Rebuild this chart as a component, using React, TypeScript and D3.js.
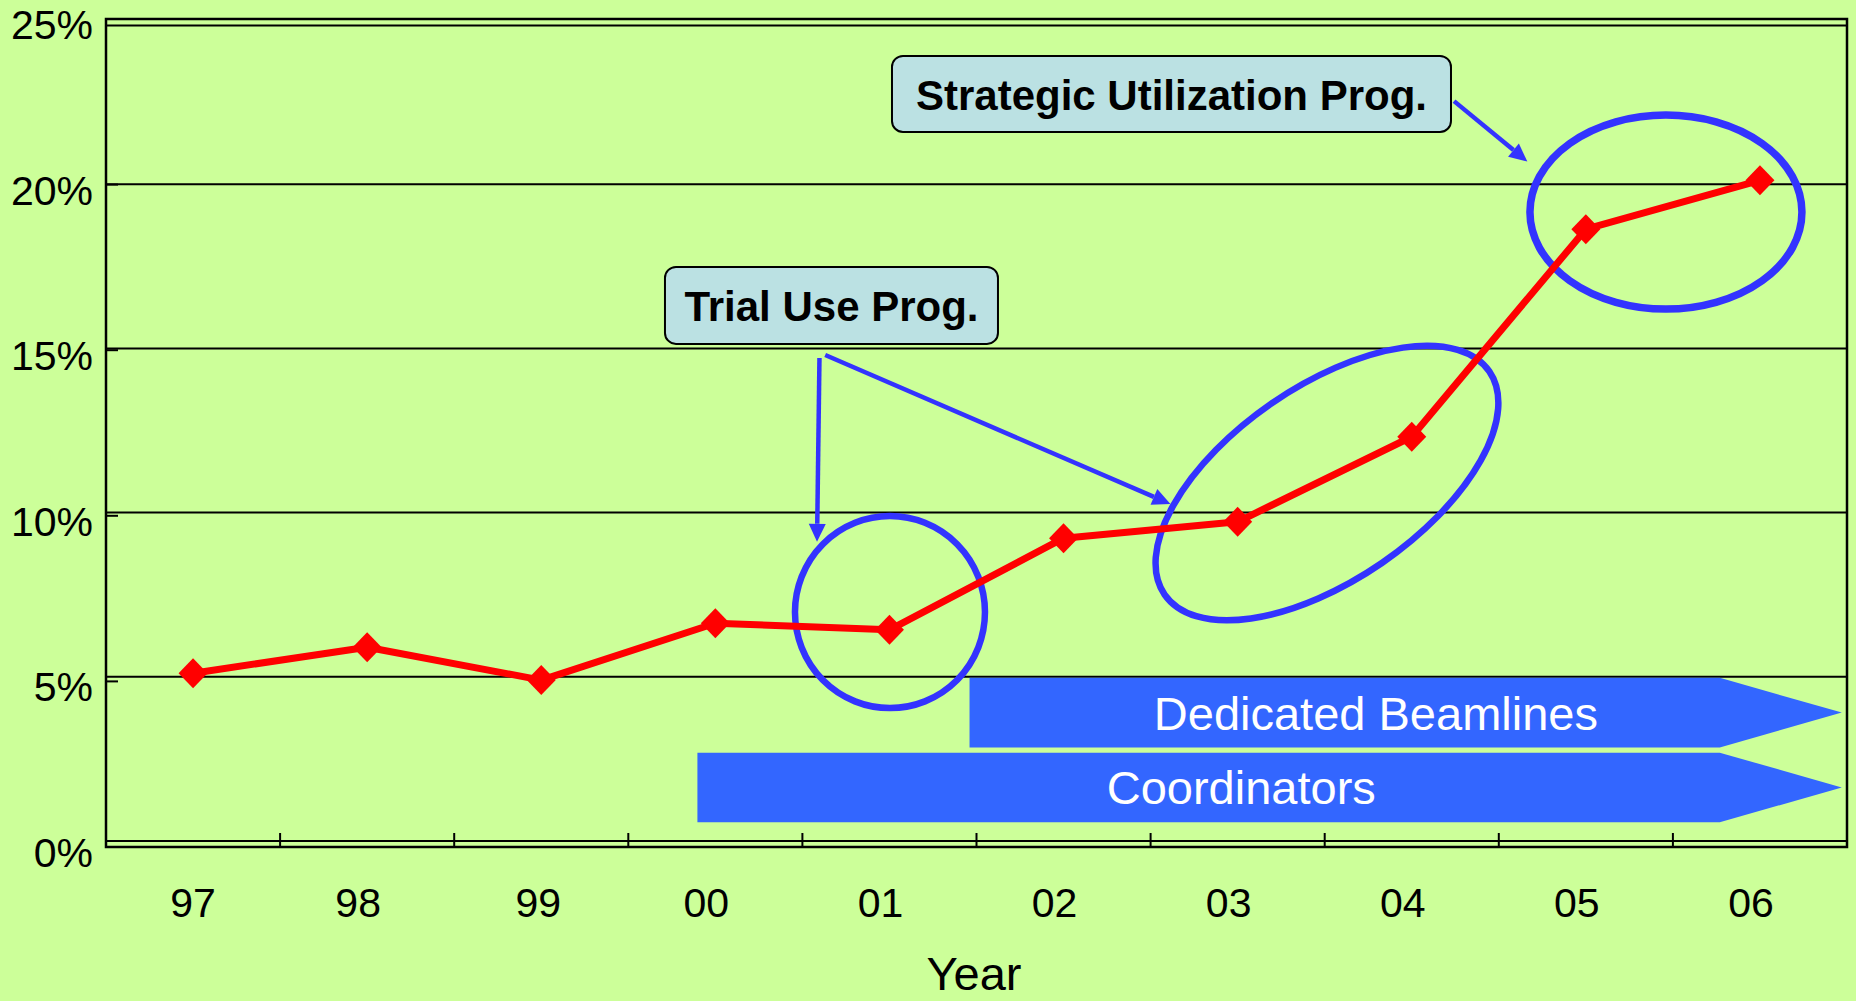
import React from "react";
import * as d3 from "d3";

// ---- data ----
const years = ["97", "98", "99", "00", "01", "02", "03", "04", "05", "06"];
const shares = [5.11, 5.9, 4.9, 6.63, 6.43, 9.22, 9.72, 12.31, 18.63, 20.12];
const yTicks = [0, 5, 10, 15, 20, 25];
const gridValues = [0, 5, 10, 15, 20];
const axisTitle = "Year";

// programme spans (x in year-index units, y in percent units)
const spanLabels = ["Dedicated Beamlines", "Coordinators"];
const spanStart = [4.46, 2.897];
const spanEnd = [9.47, 9.47];
const spanTop = [4.97, 2.69];
const spanBottom = [2.85, 0.57];
const spanTextAt = [6.794, 6.021];

// callouts (centre in year-index / percent units)
const calloutLabels = ["Trial Use Prog.", "Strategic Utilization Prog."];
const calloutAt = [3.667, 5.62];
const calloutLevel = [16.31, 22.75];

// highlight rings (centre in year-index / percent units)
const ringAt = [4.003, 6.513, 8.46];
const ringLevel = [6.97, 10.9, 19.15];

// pointer arrows: [fromIndex, fromPct, toIndex, toPct]
const pointers = [
  [3.598, 14.71, 3.584, 9.11],
  [3.631, 14.8, 5.614, 10.26],
  [7.243, 22.53, 7.664, 20.69],
];

const FONT = "'Liberation Sans', Arial, Helvetica, sans-serif";
const BG = "#ccff99";
const BLUE = "#3333ff";
const BAR = "#3366ff";
const RED = "#ff0000";

function arrowParts(x1: number, y1: number, x2: number, y2: number, len = 18, half = 8.5) {
  const dx = x2 - x1;
  const dy = y2 - y1;
  const L = Math.hypot(dx, dy);
  const ux = dx / L;
  const uy = dy / L;
  const bx = x2 - ux * len;
  const by = y2 - uy * len;
  const px = -uy;
  const py = ux;
  return {
    shaft: `M${x1},${y1}L${bx},${by}`,
    head: `M${x2},${y2}L${bx + px * half},${by + py * half}L${bx - px * half},${by - py * half}Z`,
  };
}

export default function App() {
  const left = 106;
  const right = 1847;
  const x = d3.scaleBand<string>().domain(years).range([left, right]).padding(0);
  const xi = d3.scaleLinear().domain([-0.5, years.length - 0.5]).range([left, right]);
  const y = d3.scaleLinear().domain([0, 25]).range([841, 20]);
  const yAx = d3.scaleLinear().domain([0, 25]).range([847, 19]);
  const cx = (i: number) => (x(years[i]) as number) + x.bandwidth() / 2;

  const linePath = d3
    .line<number>()
    .x((_, i) => cx(i))
    .y((d) => y(d))(shares) as string;

  const ringSizes = [
    { rx: 95, ry: 96, rot: 0, w: 6.5 },
    { rx: 197, ry: 97, rot: -34.5, w: 6.5 },
    { rx: 136, ry: 97, rot: 0, w: 7.5 },
  ];
  const calloutSizes = [
    { w: 333, h: 77 },
    { w: 559, h: 76 },
  ];

  return (
    <div style={{ position: "fixed", left: 0, top: 0, width: 1856, height: 1001, background: BG }}>
      <svg width={1856} height={1001} style={{ display: "block" }} fontFamily={FONT}>
        <rect x={0} y={0} width={1856} height={1001} fill={BG} />

        {/* gridlines */}
        {gridValues.map((v) => (
          <line key={"g" + v} x1={left} x2={right} y1={y(v)} y2={y(v)} stroke="#000" strokeWidth={2} />
        ))}
        <line x1={left} x2={right} y1={25.5} y2={25.5} stroke="#000" strokeWidth={2} />

        {/* programme spans */}
        {spanLabels.map((lab, k) => {
          const x0 = xi(spanStart[k]);
          const tip = xi(spanEnd[k]);
          const sh = tip - 122;
          const t = y(spanTop[k]);
          const b = y(spanBottom[k]);
          const m = (t + b) / 2;
          return (
            <g key={lab}>
              <path d={`M${x0},${t}L${sh},${t}L${tip},${m}L${sh},${b}L${x0},${b}Z`} fill={BAR} />
              <text x={xi(spanTextAt[k])} y={m + 17} fill="#fff" fontSize={47} textAnchor="middle">
                {lab}
              </text>
            </g>
          );
        })}

        {/* frame */}
        <rect x={left} y={19} width={right - left} height={847 - 19} fill="none" stroke="#000" strokeWidth={2.5} />

        {/* y ticks & labels */}
        {yTicks.map((v) => (
          <g key={"y" + v}>
            <line x1={left} x2={left + 12} y1={yAx(v)} y2={yAx(v)} stroke="#000" strokeWidth={2} />
            <text x={93} y={yAx(v) + 20} fontSize={41} textAnchor="end" fill="#000">
              {v + "%"}
            </text>
          </g>
        ))}

        {/* x ticks & labels */}
        {years.slice(1).map((yr, k) => (
          <line key={"t" + yr} x1={xi(k + 0.5)} x2={xi(k + 0.5)} y1={833} y2={847} stroke="#000" strokeWidth={2} />
        ))}
        {years.map((yr, i) => (
          <text key={"l" + yr} x={cx(i) - (i === 0 ? 0 : i === 2 ? 3 : 9)} y={917} fontSize={41} textAnchor="middle" fill="#000">
            {yr}
          </text>
        ))}
        <text x={974} y={990} fontSize={47} textAnchor="middle" fill="#000">
          {axisTitle}
        </text>

        {/* rings */}
        {ringAt.map((ri, k) => {
          const s = ringSizes[k];
          const px = xi(ri);
          const py = y(ringLevel[k]);
          return (
            <ellipse
              key={"r" + k}
              cx={0}
              cy={0}
              rx={s.rx}
              ry={s.ry}
              transform={`translate(${px},${py}) rotate(${s.rot})`}
              fill="none"
              stroke={BLUE}
              strokeWidth={s.w}
            />
          );
        })}

        {/* pointer arrows */}
        {pointers.map((p, k) => {
          const a = arrowParts(xi(p[0]), y(p[1]), xi(p[2]), y(p[3]));
          return (
            <g key={"a" + k}>
              <path d={a.shaft} stroke={BLUE} strokeWidth={4.5} fill="none" />
              <path d={a.head} fill={BLUE} />
            </g>
          );
        })}

        {/* series line */}
        <path d={linePath} fill="none" stroke={RED} strokeWidth={7} strokeLinejoin="round" />
        {shares.map((v, i) => (
          <path
            key={"m" + i}
            d="M0,-15L14.5,0L0,15L-14.5,0Z"
            transform={`translate(${cx(i)},${y(v)})`}
            fill={RED}
          />
        ))}

        {/* callouts */}
        {calloutLabels.map((lab, k) => {
          const s = calloutSizes[k];
          const px = xi(calloutAt[k]);
          const py = y(calloutLevel[k]);
          return (
            <g key={lab}>
              <rect
                x={px - s.w / 2}
                y={py - s.h / 2}
                width={s.w}
                height={s.h}
                rx={11}
                fill="#bbe1e3"
                stroke="#000"
                strokeWidth={2}
              />
              <text x={px} y={py + 16} fontSize={42} fontWeight="bold" textAnchor="middle" fill="#000">
                {lab}
              </text>
            </g>
          );
        })}
      </svg>
    </div>
  );
}
